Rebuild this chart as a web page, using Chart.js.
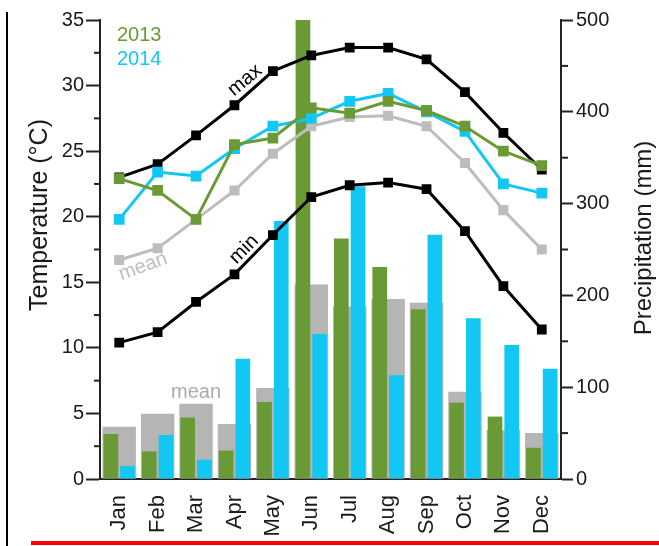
<!DOCTYPE html>
<html lang="en">
<head>
<meta charset="UTF-8">
<title>Temperature and precipitation</title>
<script src="https://cdn.jsdelivr.net/npm/chart.js"></script>
<style>
  body { margin: 0; background: #fff; }
  .wrap { position: relative; width: 659px; height: 546px; overflow: hidden; }
  canvas { position: absolute; left: 0; top: 0; }
  .frame-left { position: absolute; left: 6px; top: 12px; width: 2px; height: 534px; background: #000; }
  .underline { position: absolute; left: 31px; top: 541px; width: 628px; height: 4px; background: #f00; }
</style>
</head>
<body>
<div class="wrap">
  <canvas id="climate" width="659" height="546"></canvas>
  <div class="frame-left"></div>
  <div class="underline"></div>
</div>
<script>
const months = ['Jan', 'Feb', 'Mar', 'Apr', 'May', 'Jun', 'Jul', 'Aug', 'Sep', 'Oct', 'Nov', 'Dec'];

// temperature (°C)
const tempMax  = [23.0, 24.0, 26.2, 28.5, 31.1, 32.3, 32.9, 32.9, 32.0, 29.5, 26.4, 23.6];
const tempMin  = [10.4, 11.2, 13.5, 15.6, 18.6, 21.5, 22.4, 22.6, 22.1, 18.9, 14.7, 11.4];
const tempMean = [16.7, 17.6, 19.8, 22.0, 24.8, 26.9, 27.6, 27.7, 26.9, 24.1, 20.5, 17.5];
const temp2013 = [22.9, 22.0, 19.8, 25.5, 26.0, 28.3, 27.9, 28.8, 28.1, 26.9, 25.0, 23.9];
const temp2014 = [19.8, 23.4, 23.1, 25.2, 26.9, 27.5, 28.8, 29.4, 28.0, 26.5, 22.5, 21.8];

// precipitation (mm)
const rainMean = [57, 71, 82, 60, 99, 212, 188, 196, 192, 95, 53, 50];
const rain2013 = [49, 30, 67, 31, 84, 500, 262, 231, 185, 83, 68, 34];
const rain2014 = [14, 48, 21, 131, 281, 158, 319, 113, 266, 175, 146, 120];

const green = '#6a9a35';
const blue = '#12c7f3';
const greyBar = '#b5b5b5';
const greyLine = '#bdbdbd';
const ink = '#1a1a1a';
const font = '"Liberation Sans", Arial, sans-serif';

Chart.defaults.font.family = font;

function lineSet(label, data, color, radius, order) {
  return {
    type: 'line', label, data, yAxisID: 'yT', order,
    borderColor: color, backgroundColor: color, borderWidth: 3,
    pointStyle: 'rect', pointRadius: radius, pointHoverRadius: radius,
    tension: 0, fill: false
  };
}

// short ticks between the labelled ones, plus titles and inline labels
const extras = {
  id: 'extras',
  afterDraw(chart) {
    const { ctx, scales } = chart;
    const x = scales.x, yT = scales.yT, yP = scales.yP;
    ctx.save();
    ctx.strokeStyle = '#222';
    ctx.lineWidth = 2;
    yT.ticks.forEach(t => {
      if (t.value % 5 !== 0) {
        const py = yT.getPixelForValue(t.value);
        ctx.beginPath(); ctx.moveTo(yT.right - 6, py); ctx.lineTo(yT.right, py); ctx.stroke();
      }
    });
    yP.ticks.forEach(t => {
      if (t.value % 100 !== 0) {
        const py = yP.getPixelForValue(t.value);
        ctx.beginPath(); ctx.moveTo(yP.left, py); ctx.lineTo(yP.left + 7, py); ctx.stroke();
      }
    });

    const text = (str, px, py, rot, color, size) => {
      ctx.save();
      ctx.translate(px, py);
      ctx.rotate(rot * Math.PI / 180);
      ctx.fillStyle = color;
      ctx.font = size + 'px ' + font;
      ctx.textAlign = 'center';
      ctx.textBaseline = 'middle';
      ctx.fillText(str, 0, 0);
      ctx.restore();
    };
    const step = x.getPixelForValue(1) - x.getPixelForValue(0);
    const at = i => x.getPixelForValue(0) + i * step;

    text('Temperature (°C)', 40, 215, -90, ink, 25);
    text('Precipitation (mm)', 644, 238, -90, ink, 24);

    text('max', at(3.27), yT.getPixelForValue(30.4), -40, '#000', 20);
    text('min', at(3.25), yT.getPixelForValue(17.5), -45, '#000', 20);
    text('mean', at(0.62), yT.getPixelForValue(16.2), -20, greyLine, 20);
    text('mean', at(2), yP.getPixelForValue(94), 0, '#aaa', 20);

    ctx.textAlign = 'left';
    ctx.textBaseline = 'middle';
    ctx.font = '20px ' + font;
    ctx.fillStyle = green;
    ctx.fillText('2013', 117, 35);
    ctx.fillStyle = blue;
    ctx.fillText('2014', 117, 59);
    ctx.restore();
  }
};

new Chart(document.getElementById('climate'), {
  data: {
    labels: months,
    datasets: [
      lineSet('2013', temp2013, green, 5.5, 0),
      lineSet('2014', temp2014, blue, 5.5, 1),
      lineSet('max', tempMax, '#000', 4.8, 2),
      lineSet('min', tempMin, '#000', 4.8, 2),
      lineSet('mean', tempMean, greyLine, 5, 3),
      {
        type: 'bar', label: 'rain 2013', data: rain2013, yAxisID: 'yP', order: 5,
        backgroundColor: green, categoryPercentage: 0.87, barPercentage: 0.88
      },
      {
        type: 'bar', label: 'rain 2014', data: rain2014, yAxisID: 'yP', order: 5,
        backgroundColor: blue, categoryPercentage: 0.87, barPercentage: 0.88
      },
      {
        type: 'bar', label: 'rain mean', data: rainMean, yAxisID: 'yP', order: 6,
        backgroundColor: greyBar, grouped: false, categoryPercentage: 0.87, barPercentage: 1
      }
    ]
  },
  options: {
    responsive: false,
    animation: false,
    layout: { padding: { top: 20, left: 0, right: 0, bottom: 0 } },
    plugins: { legend: { display: false }, tooltip: { enabled: false } },
    scales: {
      x: {
        type: 'category',
        offset: true,
        grid: { display: false },
        border: { display: true, color: '#222', width: 2 },
        ticks: { autoSkip: false, minRotation: 90, maxRotation: 90, padding: 8, color: ink, font: { size: 22 } },
        afterFit: s => { s.height = 67; }
      },
      yT: {
        position: 'left',
        min: 0, max: 35,
        ticks: { stepSize: 2.5, callback: v => (v % 5 === 0 ? v : ''), padding: 2, color: ink, font: { size: 20 } },
        grid: {
          drawOnChartArea: false, tickLength: 14, tickWidth: 2,
          tickColor: c => (c.tick && c.tick.value % 5 === 0 ? '#222' : 'rgba(0,0,0,0)')
        },
        border: { color: '#222', width: 2 },
        afterFit: s => { s.width = 100; }
      },
      yP: {
        position: 'right',
        min: 0, max: 500,
        ticks: { stepSize: 50, callback: v => (v % 100 === 0 ? v : ''), padding: 3, color: ink, font: { size: 20 } },
        grid: {
          drawOnChartArea: false, tickLength: 12, tickWidth: 2,
          tickColor: c => (c.tick && c.tick.value % 100 === 0 ? '#222' : 'rgba(0,0,0,0)')
        },
        border: { color: '#222', width: 2 },
        afterFit: s => { s.width = 98; }
      }
    }
  },
  plugins: [extras]
});
</script>
</body>
</html>
